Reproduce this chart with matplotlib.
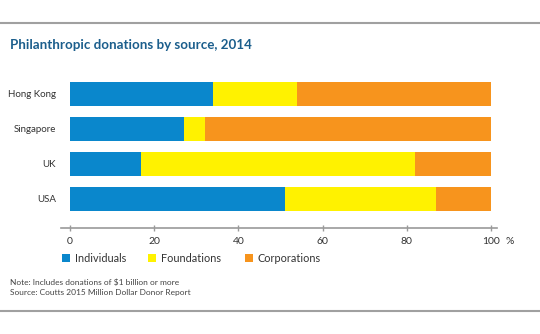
import matplotlib.pyplot as plt
from matplotlib.lines import Line2D
from matplotlib.patches import Rectangle

plt.rcParams['font.family'] = ['Lato', 'DejaVu Sans']

countries = ['USA', 'UK', 'Singapore', 'Hong Kong']
individuals = [51, 17, 27, 34]
foundations = [36, 65, 5, 20]
corporations = [13, 18, 68, 46]
sources = ['Individuals', 'Foundations', 'Corporations']
colors = ['#0a87cc', '#fff200', '#f7941d']
ticks = [0, 20, 40, 60, 80, 100]

W, H = 540, 334
fig = plt.figure(figsize=(W / 100, H / 100), dpi=100)
ax = fig.add_axes([61 / W, 106 / H, 436 / W, 153 / H])

left = [0] * len(countries)
for vals, col in zip([individuals, foundations, corporations], colors):
    ax.barh(countries, vals, left=left, color=col, height=0.68)
    left = [a + b for a, b in zip(left, vals)]

ax.set_xlim(-2.1, 101.4)
ax.set_ylim(-0.83, 3.53)
ax.set_xticks(ticks)
for s in ['top', 'right', 'left']:
    ax.spines[s].set_visible(False)
ax.spines['bottom'].set_color('#9a9a9a')
ax.spines['bottom'].set_linewidth(1.2)
ax.tick_params(axis='x', colors='#9a9a9a', direction='inout', length=4, width=1, labelsize=7.5,
               labelcolor='#333333', pad=4.5)
ax.tick_params(axis='y', length=0, labelsize=7, labelcolor='#333333', pad=3.5)
ax.annotate('%', xy=(104.5, 0), xycoords=('data', 'axes fraction'), xytext=(0, -6.5), textcoords='offset points',
            fontsize=7.5, color='#333333', ha='center', va='top')

# legend, placed by hand to match the spacing of the original
leg_x = [62, 148, 245]
leg_y = 258
for x, lab, col in zip(leg_x, sources, colors):
    fig.add_artist(Rectangle((x / W, 1 - (leg_y + 4) / H), 8 / W, 8 / H, facecolor=col, edgecolor='none',
                             transform=fig.transFigure))
    fig.text((x + 13) / W, 1 - leg_y / H, lab, fontsize=7.8, color='#333333', va='center', ha='left')

fig.text(10 / W, 1 - 45 / H, 'Philanthropic donations by source, 2014', fontsize=9.6, fontweight='bold',
         color='#1b5e8c', va='center', ha='left')
fig.text(10 / W, 1 - 282 / H, 'Note: Includes donations of $1 billion or more', fontsize=6, color='#444444',
         va='center')
fig.text(10 / W, 1 - 292 / H, 'Source: Coutts 2015 Million Dollar Donor Report', fontsize=6, color='#444444',
         va='center')

fig.add_artist(Line2D([0, 1], [1 - 23 / H, 1 - 23 / H], color='#a0a0a0', lw=1.5))
fig.add_artist(Line2D([0, 1], [1 - 311 / H, 1 - 311 / H], color='#a0a0a0', lw=1.5))

fig.savefig('out.png', dpi=100)
